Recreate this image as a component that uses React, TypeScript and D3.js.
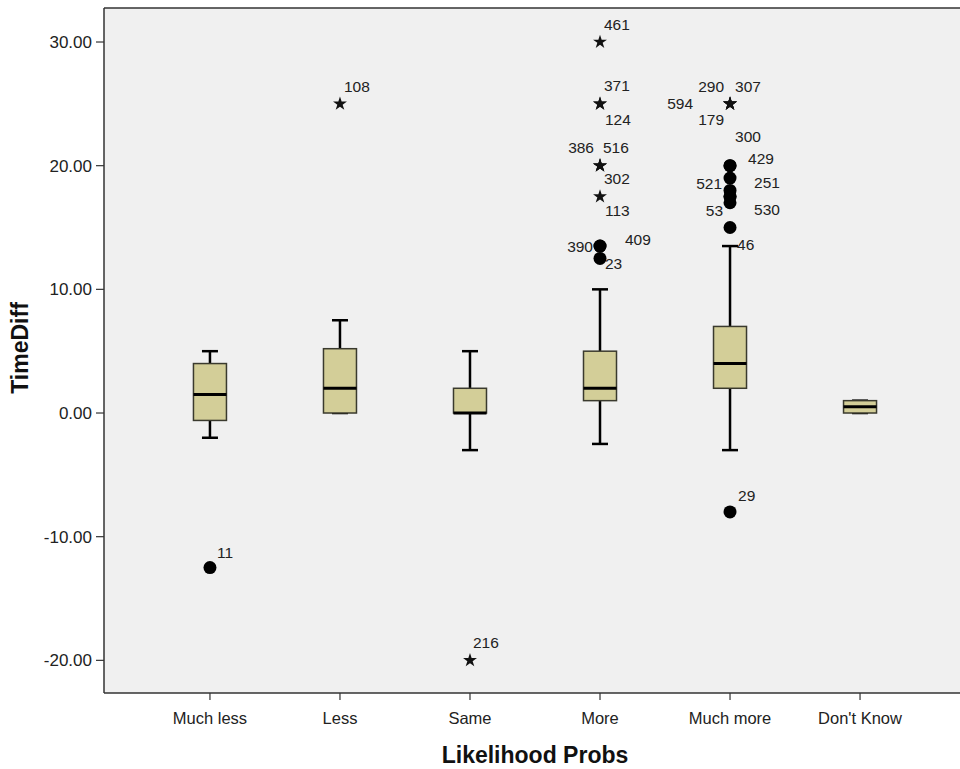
import React from "react";
import * as d3 from "d3";

const categories = ["Much less", "Less", "Same", "More", "Much more", "Don't Know"];
const whiskerLow = [-2, 0, -3, -2.5, -3, 0];
const q1 = [-0.6, 0, 0, 1, 2, 0];
const medians = [1.5, 2, 0, 2, 4, 0.5];
const q3 = [4, 5.2, 2, 5, 7, 1];
const whiskerHigh = [5, 7.5, 5, 10, 13.5, 1];

const yTicks = [-20, -10, 0, 10, 20, 30];

// outliers: category, value, case id, kind ("o" mild, "*" extreme)
const outlierCategory = [
  "Much less", "Less", "Same",
  "More", "More", "More", "More", "More", "More", "More", "More", "More", "More",
  "Much more", "Much more", "Much more", "Much more", "Much more", "Much more", "Much more",
  "Much more", "Much more", "Much more", "Much more", "Much more", "Much more", "Much more", "Much more",
];
const outlierValue = [
  -12.5, 25, -20,
  30, 25, 25, 20, 20, 20, 17.5, 13.5, 13.5, 12.5,
  25, 25, 25, 25, 20, 20, 19, 18, 17.5, 17, 15, 17.5, -8,
];
const outlierId = [
  "11", "108", "216",
  "461", "371", "124", "386", "516", "302", "113", "390", "409", "23",
  "290", "307", "594", "179", "300", "429", "251", "521", "530", "53", "46", "", "29",
];
const outlierKind = [
  "o", "*", "*",
  "*", "*", "*", "*", "*", "*", "*", "o", "o", "o",
  "*", "*", "*", "*", "o", "o", "o", "o", "o", "o", "o", "o", "o",
];

// label placement (layout only): dx, dy, anchor
const labelPlace: Record<string, [number, number, string]> = {
  "11": [7, -15, "start"],
  "108": [4, -17, "start"],
  "216": [3, -18, "start"],
  "461": [4, -18, "start"],
  "371": [4, -18, "start"],
  "124": [5, 16, "start"],
  "386": [-6, -18, "end"],
  "516": [3, -18, "start"],
  "302": [4, 13, "start"],
  "113": [5, 14, "start"],
  "390": [-7, 0, "end"],
  "409": [25, -7, "start"],
  "23": [5, 5, "start"],
  "290": [-6, -17, "end"],
  "307": [5, -17, "start"],
  "594": [-37, 0, "end"],
  "179": [-6, 16, "end"],
  "300": [5, -29, "start"],
  "429": [18, -7, "start"],
  "251": [24, 4, "start"],
  "521": [-8, -7, "end"],
  "530": [24, 13, "start"],
  "53": [-7, 8, "end"],
  "46": [7, 17, "start"],
  "29": [8, -17, "start"],
};

const W = 960;
const H = 769;
const plotLeft = 104;
const plotRight = 966;
const plotTop = 8;
const plotBottom = 693;

export default function App() {
  const x = d3.scaleBand<string>().domain(categories).range([plotLeft, plotRight]).paddingOuter(0.315).paddingInner(0);
  const y = d3.scaleLinear().domain([-22.64, 32.75]).range([plotBottom, plotTop]);
  const cx = (c: string) => (x(c) as number) + x.bandwidth() / 2;
  const boxW = 33;
  const capW = 16;
  const star = d3.symbol().type(d3.symbolStar).size(60)();
  const font = "Arial, 'Liberation Sans', sans-serif";

  return (
    <svg width={W} height={H} style={{ position: "absolute", left: 0, top: 0, background: "#fff" }}>
      <rect x={plotLeft} y={plotTop} width={plotRight - plotLeft} height={plotBottom - plotTop} fill="#f0f0f0" />
      <line x1={plotLeft} x2={plotRight} y1={plotTop} y2={plotTop} stroke="#333" strokeWidth={1.5} />
      <line x1={plotLeft} x2={plotRight} y1={plotBottom} y2={plotBottom} stroke="#333" strokeWidth={1.5} />
      <line x1={plotLeft} x2={plotLeft} y1={plotTop} y2={plotBottom} stroke="#333" strokeWidth={1.5} />

      {yTicks.map((t) => (
        <g key={t}>
          <line x1={plotLeft - 8} x2={plotLeft} y1={y(t)} y2={y(t)} stroke="#333" strokeWidth={1.2} />
          <text x={plotLeft - 12} y={y(t)} dy="0.36em" textAnchor="end" fontSize={17} fontFamily={font} fill="#222">
            {t.toFixed(2)}
          </text>
        </g>
      ))}

      {categories.map((c) => (
        <g key={c}>
          <line x1={cx(c)} x2={cx(c)} y1={plotBottom} y2={plotBottom + 7} stroke="#333" strokeWidth={1.2} />
          <text x={cx(c)} y={724} textAnchor="middle" fontSize={16.5} fontFamily={font} fill="#222">
            {c}
          </text>
        </g>
      ))}

      {categories.map((c, i) => {
        const xc = cx(c);
        return (
          <g key={"box" + c}>
            <line x1={xc} x2={xc} y1={y(q3[i])} y2={y(whiskerHigh[i])} stroke="#000" strokeWidth={2.5} />
            <line x1={xc - capW / 2} x2={xc + capW / 2} y1={y(whiskerHigh[i])} y2={y(whiskerHigh[i])} stroke="#000" strokeWidth={2.5} />
            <line x1={xc} x2={xc} y1={y(q1[i])} y2={y(whiskerLow[i])} stroke="#000" strokeWidth={2.5} />
            <line x1={xc - capW / 2} x2={xc + capW / 2} y1={y(whiskerLow[i])} y2={y(whiskerLow[i])} stroke="#000" strokeWidth={2.5} />
            <rect
              x={xc - boxW / 2}
              y={y(q3[i])}
              width={boxW}
              height={y(q1[i]) - y(q3[i])}
              fill="#d3ce98"
              stroke="#3a3a2e"
              strokeWidth={1.5}
            />
            <line x1={xc - boxW / 2} x2={xc + boxW / 2} y1={y(medians[i])} y2={y(medians[i])} stroke="#000" strokeWidth={3} />
          </g>
        );
      })}

      {outlierValue.map((v, i) => {
        const xc = cx(outlierCategory[i]);
        const yc = y(v);
        const id = outlierId[i];
        const lp = labelPlace[id];
        return (
          <g key={"o" + i}>
            {outlierKind[i] === "*" ? (
              <path d={star as string} transform={`translate(${xc},${yc})`} fill="#111" />
            ) : (
              <circle cx={xc} cy={yc} r={6.5} fill="#000" />
            )}
            {id && lp && (
              <text x={xc + lp[0]} y={yc + lp[1]} dy="0.36em" textAnchor={lp[2]} fontSize={15.5} fontFamily={font} fill="#222">
                {id}
              </text>
            )}
          </g>
        );
      })}

      <text x={535} y={763} textAnchor="middle" fontSize={23} fontWeight="bold" fontFamily={font} fill="#111">
        Likelihood Probs
      </text>
      <text
        transform={`translate(28,348) rotate(-90)`}
        textAnchor="middle"
        fontSize={23}
        fontWeight="bold"
        fontFamily={font}
        fill="#111"
      >
        TimeDiff
      </text>
    </svg>
  );
}
